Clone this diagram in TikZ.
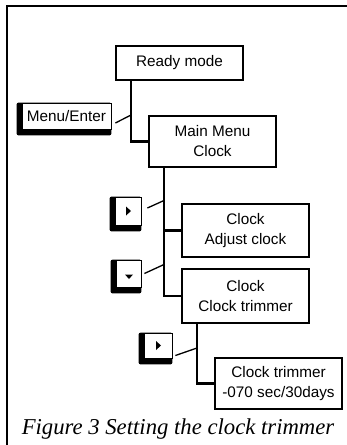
\documentclass[tikz,border=0pt]{standalone}
\usepackage{fontspec}
\setmainfont{Liberation Sans}
\newfontfamily\capfont{Liberation Serif}
\usetikzlibrary{backgrounds}

\tikzset{
  menubox/.style={draw, line width=1.1pt, fill=white, align=center, inner sep=0pt,
    minimum width=127pt, font=\fontsize{15.3}{20}\selectfont},
  keyface/.style={draw, line width=0.8pt, fill=white, inner sep=0pt,
    font=\fontsize{15.3}{20}\selectfont},
  keyshade/.style={fill=black, rounded corners=2pt},
  trunk/.style={line width=2.8pt},
  branch/.style={line width=2.4pt},
  tick/.style={line width=1.3pt},
}

% thick left/bottom shadow of a key cap, drawn behind its face
\newcommand{\keyshadow}[1]{%
  \fill[keyshade] ([xshift=-5pt]#1.north west) rectangle ([yshift=-6pt]#1.south east);}

\begin{document}
\begin{tikzpicture}[x=1pt,y=-1pt]
\useasboundingbox (0,0) rectangle (347,445);

% outer frame (top and left edges)
\draw[line width=2pt] (347,6) -- (7,6) -- (7,445);

% menu screens
\node[menubox, minimum height=34pt] (ready) at (179.5,63) {Ready mode};
\node[menubox, minimum height=51pt] (main) at (212.5,141.5) {Main Menu\\Clock};
\node[menubox, minimum height=53pt] (adj) at (245.5,230.5) {Clock\\Adjust clock};
\node[menubox, minimum height=54pt] (trim) at (245.5,296) {Clock\\Clock trimmer};
\node[menubox, minimum height=51pt] (final) at (278.5,383.5) {Clock trimmer\\-070 sec/30days};

% key faces
\node[keyface, minimum width=89pt, minimum height=26pt] (menukey) at (66.5,116) {Menu/Enter};
\node[keyface, minimum width=26pt, minimum height=28pt] (rightkeyA) at (128,211) {};
\node[keyface, minimum width=25pt, minimum height=27pt] (downkey) at (128.5,273.5) {};
\node[keyface, minimum width=28pt, minimum height=25pt] (rightkeyB) at (158,345.5) {};

\begin{pgfonlayer}{background}
  \keyshadow{menukey}
  \keyshadow{rightkeyA}
  \keyshadow{downkey}
  \keyshadow{rightkeyB}
\end{pgfonlayer}

% arrow glyphs on the keys
\fill (rightkeyA.center) ++(-2,-4.5) -- ++(5,4.5) -- ++(-5,4.5) -- cycle;
\fill (rightkeyB.center) ++(-2,-4.5) -- ++(5,4.5) -- ++(-5,4.5) -- cycle;
\fill (downkey.center) ++(-3.5,1) -- ++(8,0) -- ++(-4,4.5) -- cycle;

% trunk positions
\coordinate (k1) at (131,0);
\coordinate (k2) at (164,0);
\coordinate (k3) at (197,0);

% tree connectors
\draw[trunk] (ready.south -| k1) |- (main.west);
\draw[branch] (main.south -| k2) |- (trim.west);
\draw[branch] (k2 |- adj.west) -- (adj.west);
\draw[trunk] (trim.south -| k3) |- (final.west);

% key-to-trunk ticks
\coordinate (m1) at (131,115);
\coordinate (m2) at (164,200.5);
\coordinate (m3) at (164,264.5);
\coordinate (m4) at (197,348);
\draw[tick] ([xshift=4pt,yshift=-7pt]menukey.east) -- (m1);
\draw[tick] ([xshift=6pt,yshift=3pt]rightkeyA.east) -- (m2);
\draw[tick] ([xshift=3pt]downkey.east) -- (m3);
\draw[tick] ([xshift=3pt,yshift=-10pt]rightkeyB.east) -- (m4);

% caption
\node[font=\capfont\itshape\fontsize{22.7}{26}\selectfont, anchor=base] (cap) at (178,434)
  {Figure 3 Setting the clock trimmer};
\end{tikzpicture}
\end{document}
